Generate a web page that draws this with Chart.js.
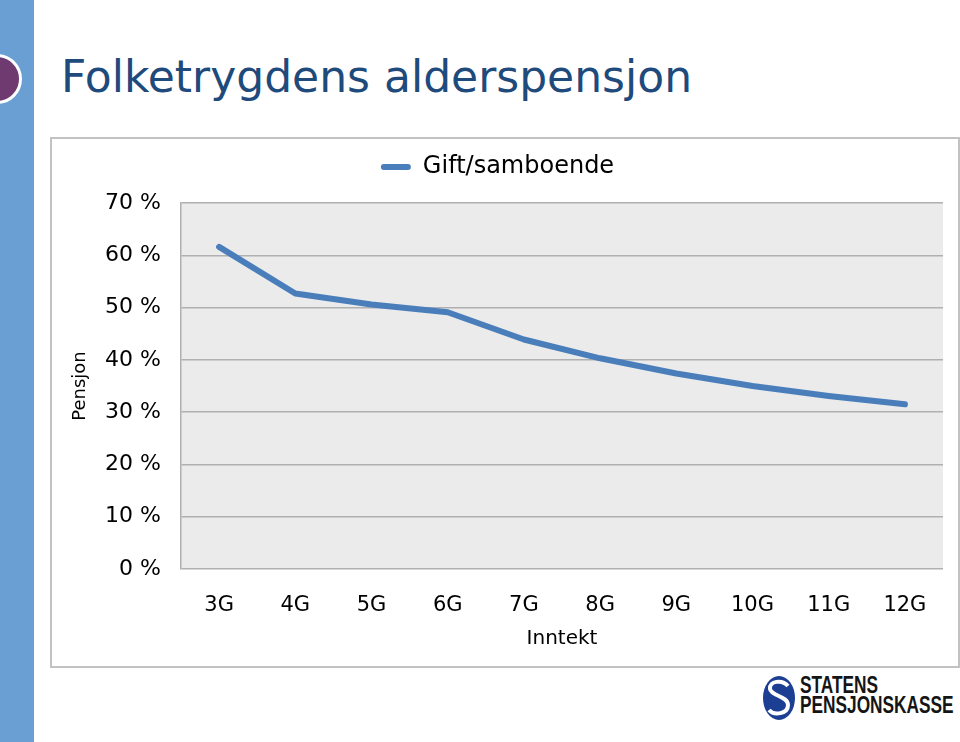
<!DOCTYPE html>
<html>
<head>
<meta charset="utf-8">
<script src="https://cdn.jsdelivr.net/npm/chart.js@4.4.1/dist/chart.umd.min.js"></script>
<style>
  html, body { margin: 0; padding: 0; background: #ffffff; }
  body { width: 960px; height: 742px; position: relative; overflow: hidden; font-family: "DejaVu Sans", Verdana, sans-serif; }
  #sidebar { position: absolute; left: 0; top: 0; width: 34px; height: 742px; background: #6a9fd3; }
  #dot { position: absolute; left: -28px; top: 54px; width: 44px; height: 44px; border-radius: 50%; background: #6e3a6f; border: 3px solid #ffffff; }
  #title { position: absolute; left: 61px; top: 55px; font-size: 44px; line-height: 1; color: #1f4a7c; white-space: nowrap; }
  #box { position: absolute; left: 50px; top: 137px; width: 906px; height: 527px; border: 2px solid #c2c2c2; background: #ffffff; }
  #chart { position: absolute; left: 0; top: 0; }
  #logo { position: absolute; left: 762px; top: 674px; width: 196px; height: 50px; }
  #logo .txt { position: absolute; left: 38px; top: 1px; font-family: "Liberation Sans", Arial, sans-serif; font-weight: bold; font-size: 24px; line-height: 20px; color: #151515; transform: scaleX(0.72); transform-origin: 0 0; white-space: nowrap; }
</style>
</head>
<body>
<div id="sidebar"></div>
<div id="dot"></div>
<div id="title">Folketrygdens alderspensjon</div>
<div id="box"><canvas id="chart" width="906" height="527"></canvas></div>
<div id="logo">
  <svg width="36" height="48" viewBox="0 0 36 48" style="position:absolute;left:0;top:0">
    <ellipse cx="17" cy="24" rx="16" ry="22" fill="#1c3f94"/>
    <path d="M26 12 C20 5, 7 7, 8 15 C9 22, 26 22, 26 31 C26 40, 12 42, 7 36" fill="none" stroke="#ffffff" stroke-width="4"/>
  </svg>
  <div class="txt">STATENS<br>PENSJONSKASSE</div>
</div>
<script>
const categories = ["3G", "4G", "5G", "6G", "7G", "8G", "9G", "10G", "11G", "12G"];
const seriesName = "Gift/samboende";
const pensjonValues = [61.6, 52.7, 50.6, 49.1, 43.9, 40.3, 37.4, 35.0, 33.1, 31.5];
const yTicks = [0, 10, 20, 30, 40, 50, 60, 70];

const plotBg = {
  id: 'plotBg',
  beforeDraw(chart) {
    const {ctx, chartArea: a} = chart;
    ctx.save();
    ctx.fillStyle = '#ebebeb';
    ctx.fillRect(a.left, a.top, a.right - a.left, a.bottom - a.top);
    ctx.restore();
  }
};
const legendSpace = {
  id: 'legendSpace',
  beforeInit(chart) {
    const origFit = chart.legend.fit;
    chart.legend.fit = function () {
      origFit.bind(chart.legend)();
      this.height += 14;
    };
  }
};

new Chart(document.getElementById('chart'), {
  type: 'line',
  data: {
    labels: categories,
    datasets: [{
      label: seriesName,
      data: pensjonValues,
      borderColor: '#4a7ebb',
      backgroundColor: '#4a7ebb',
      borderWidth: 6,
      borderCapStyle: 'round',
      borderJoinStyle: 'round',
      pointRadius: 0,
      tension: 0,
      fill: false
    }]
  },
  options: {
    responsive: false,
    animation: false,
    layout: { padding: { left: 0, right: 15, top: 6, bottom: 0 } },
    plugins: {
      legend: {
        position: 'top',
        labels: {
          font: { family: 'DejaVu Sans', size: 24 },
          color: '#000000',
          boxWidth: 30,
          boxHeight: 6,
          padding: 10,
          generateLabels(chart) {
            return [{ text: seriesName, fillStyle: '#4a7ebb', strokeStyle: '#4a7ebb', lineWidth: 0, borderRadius: 3, datasetIndex: 0 }];
          }
        }
      },
      tooltip: { enabled: false }
    },
    scales: {
      x: {
        offset: true,
        grid: { display: false, drawTicks: false },
        border: { display: false },
        ticks: { font: { family: 'DejaVu Sans', size: 21 }, color: '#000000', padding: 24, maxRotation: 0, autoSkip: false },
        title: { display: true, text: 'Inntekt', font: { family: 'DejaVu Sans', size: 20 }, color: '#000000', padding: { top: 0, bottom: 15 } },
        afterFit(scale) { scale.height = 97; }
      },
      y: {
        min: 0, max: 70,
        afterBuildTicks(scale) { scale.ticks = yTicks.map(v => ({ value: v })); },
        grid: { color: '#b0b0b0', lineWidth: 1.5, drawTicks: false },
        border: { display: true, color: '#b0b0b0', width: 1.5 },
        ticks: { font: { family: 'DejaVu Sans', size: 22 }, color: '#000000', padding: 20, callback: v => v + ' %' },
        title: { display: true, text: 'Pensjon', font: { family: 'DejaVu Sans', size: 18 }, color: '#000000', padding: { top: 18, bottom: 0 } },
        afterFit(scale) { scale.width = 129; }
      }
    }
  },
  plugins: [plotBg, legendSpace]
});
</script>
</body>
</html>
